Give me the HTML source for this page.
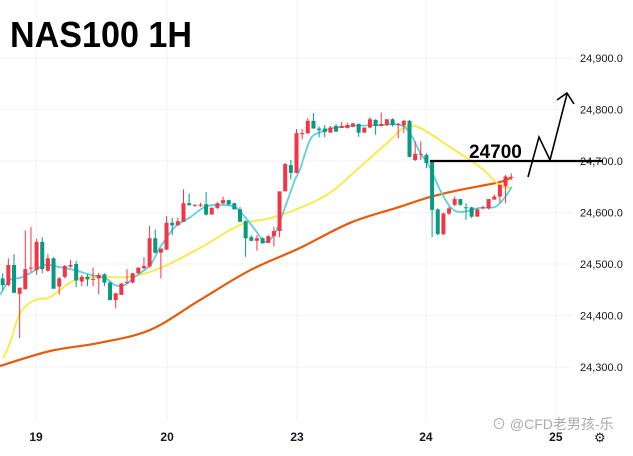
<!DOCTYPE html>
<html><head><meta charset="utf-8"><style>
body{margin:0;background:#fff;}
svg{display:block;font-family:"Liberation Sans","Noto Sans CJK SC",sans-serif;}
</style></head><body>
<svg id="chart" width="633" height="456" viewBox="0 0 633 456">
<g id="grid"></g>
<g id="ma"></g>
<g id="candles"></g>
<g id="axes"></g>
<text x="10" y="47" font-size="36" font-weight="bold" fill="#000" textLength="182" lengthAdjust="spacingAndGlyphs">NAS100 1H</text>
<line x1="430" y1="161" x2="603" y2="161" stroke="#000" stroke-width="2.2"/>
<text x="469" y="158" font-size="19" font-weight="bold" fill="#000">24700</text>
<polyline points="528,177 539,137 550,160 567,94" fill="none" stroke="#000" stroke-width="1.6"/>
<polyline points="557,100 567,93 574,104" fill="none" stroke="#000" stroke-width="1.6"/>
<text x="492" y="429" font-size="14" fill="#aaa">⊙ @CFD老男孩-乐</text>
<text x="594" y="442" font-size="13" fill="#222">⚙</text>
</svg>
<script>
const candles=[
[24472,24482,24449,24459],[24459,24511,24457,24498],[24498,24519,24444,24444],[24442,24454,24356,24454],
[24451,24565,24451,24490],[24491,24572,24485,24493],[24488,24549,24479,24543],[24543,24552,24482,24490],
[24487,24519,24485,24511],[24511,24513,24452,24452],[24456,24475,24441,24472],[24475,24498,24472,24496],
[24495,24508,24493,24498],[24500,24506,24455,24468],[24466,24479,24457,24475],[24475,24480,24457,24470],
[24470,24493,24457,24471],[24472,24483,24441,24479],[24480,24482,24457,24464],[24464,24466,24429,24430],
[24430,24444,24414,24443],[24440,24463,24440,24462],[24464,24490,24462,24465],[24464,24483,24462,24482],
[24482,24493,24481,24493],[24492,24513,24490,24496],[24495,24574,24493,24550],[24550,24567,24521,24522],
[24522,24530,24472,24530],[24528,24593,24527,24580],[24580,24590,24556,24575],[24575,24590,24575,24583],
[24582,24645,24582,24618],[24618,24637,24614,24614],[24614,24616,24611,24615],[24614,24619,24611,24615],
[24616,24640,24594,24596],[24596,24610,24596,24609],[24609,24620,24607,24618],[24618,24631,24616,24624],
[24624,24625,24614,24616],[24618,24619,24606,24606],[24606,24611,24582,24582],[24583,24585,24514,24550],
[24552,24556,24545,24545],[24545,24556,24526,24550],[24550,24552,24540,24540],[24541,24556,24540,24554],
[24554,24572,24534,24564],[24564,24641,24552,24641],[24641,24696,24641,24694],[24692,24702,24664,24677],
[24677,24762,24676,24754],[24752,24762,24742,24754],[24754,24783,24752,24778],[24778,24793,24763,24763],
[24763,24767,24746,24760],[24763,24770,24746,24756],[24755,24768,24755,24765],[24768,24772,24757,24757],
[24764,24776,24764,24768],[24764,24774,24763,24770],[24767,24774,24765,24773],[24772,24773,24747,24755],
[24755,24765,24755,24765],[24765,24785,24764,24781],[24780,24781,24751,24768],[24768,24794,24767,24772],
[24770,24781,24768,24781],[24781,24783,24767,24770],[24771,24774,24744,24772],[24769,24780,24754,24778],
[24778,24780,24707,24708],[24702,24738,24700,24714],[24713,24738,24702,24714],[24712,24715,24686,24696],
[24699,24699,24552,24605],[24606,24608,24556,24558],[24558,24600,24556,24598],[24598,24611,24595,24608],
[24615,24631,24612,24626],[24626,24626,24613,24615],[24610,24618,24586,24609],[24610,24611,24589,24592],
[24592,24608,24592,24606],[24609,24613,24606,24610],[24608,24626,24606,24626],[24625,24635,24625,24631],
[24631,24654,24619,24654],[24651,24673,24618,24670],[24668,24676,24663,24669]];
const priceTicks=[24900,24800,24700,24600,24500,24400,24300];
const dateLabels=["19","20","23","24","25"];
const dateIdx=[5.9,29.1,52.1,74.9,97.9];
const orangeIdx=[-0.5,8.4,17.2,26.1,34.9,43.8,52.6,61.5,70.3,75.6,81,88,90.1];
const orangeVal=[24302,24331,24347,24372,24430,24488,24531,24580,24611,24630,24644,24659,24669];
const yellowIdx=[0.05,1.3,3.1,5.7,8.4,12.8,17.2,22.5,27.9,34.9,42,47.3,52.6,57.9,63.2,68.6,71.2,73.9,79.2,84.5,88,90.1];
const yellowVal=[24317,24347,24405,24430,24436,24469,24475,24475,24492,24531,24576,24589,24609,24638,24688,24741,24766,24764,24727,24688,24653,24648];
const cyanIdx=[-0.5,1.3,3.1,4.8,7.5,10.1,12.8,15.5,18.1,19.9,21.6,23.4,26.1,27.9,30.5,33.2,35.8,38.5,41.1,42.9,44.7,46.4,48.2,50,51.7,52.6,54.4,56.2,59.7,66.8,70.3,72.1,73.9,75.6,77.4,79.2,81,84.5,87.2,88.9,90.1];
const cyanVal=[24440,24469,24473,24482,24498,24494,24488,24479,24473,24459,24459,24475,24498,24533,24572,24591,24611,24615,24611,24591,24566,24543,24560,24611,24663,24683,24741,24756,24766,24770,24770,24754,24716,24688,24644,24611,24601,24609,24611,24630,24650];

const NS="http://www.w3.org/2000/svg";
function y(p){return 161-(p-24700)*0.515;}
function x(i){return 2.7+i*5.65;}
function mk(tag,attrs,parent){const e=document.createElementNS(NS,tag);for(const k in attrs)e.setAttribute(k,attrs[k]);parent.appendChild(e);return e;}
const grid=document.getElementById('grid'),axes=document.getElementById('axes'),cg=document.getElementById('candles'),mg=document.getElementById('ma');
priceTicks.forEach(p=>{
  const l=mk('line',{x1:0,x2:572,y1:y(p),y2:y(p),stroke:'#f0f3fa','stroke-width':1},grid);
  
  
  const t=mk('text',{x:580,y:y(p)+4,'font-size':11,fill:'#131722'},axes);
  
  
  t.textContent=p.toLocaleString('en-US')+'.0';
});
dateLabels.forEach((d,k)=>{
  const xx=x(dateIdx[k]);
  const l=mk('line',{x1:xx,x2:xx,y1:0,y2:420,stroke:'#f0f3fa','stroke-width':1},grid);
  
  
  const t=mk('text',{x:xx,y:441,'font-size':12,'font-weight':'bold','text-anchor':'middle',fill:'#131722'},axes);
  
  
  t.textContent=d;
});
function line(idx,val,color,w,name){
  const P=idx.map((v,k)=>[x(v),y(val[k])]);
  let d='M'+P[0][0].toFixed(1)+','+P[0][1].toFixed(1);
  for(let i=0;i<P.length-1;i++){
    const p0=P[Math.max(0,i-1)],p1=P[i],p2=P[i+1],p3=P[Math.min(P.length-1,i+2)];
    const c1=[p1[0]+(p2[0]-p0[0])/6,p1[1]+(p2[1]-p0[1])/6];
    const c2=[p2[0]-(p3[0]-p1[0])/6,p2[1]-(p3[1]-p1[1])/6];
    d+=' C'+c1.map(v=>v.toFixed(1)).join(',')+' '+c2.map(v=>v.toFixed(1)).join(',')+' '+p2.map(v=>v.toFixed(1)).join(',');
  }
  const pl=mk('path',{d:d,fill:'none',stroke:color,'stroke-width':w,'stroke-linejoin':'round'},mg);
  
  
}
line(orangeIdx,orangeVal,'#e8590c',2.2,'ma-long-line');
line(yellowIdx,yellowVal,'#ffe83d',1.8,'ma-mid-line');
line(cyanIdx,cyanVal,'#5ed0e0',1.8,'ma-short-line');
candles.forEach((c,i)=>{
  const [o,h,l,cl]=c;const up=cl>=o;const col=up?'#f23645':'#089981';
  const cx=x(i);
  const g=mk('g',{},cg);
  
  
  mk('line',{x1:cx,x2:cx,y1:y(h),y2:y(l),stroke:col,'stroke-width':1},g);
  const top=y(Math.max(o,cl)),bot=y(Math.min(o,cl));
  mk('rect',{x:cx-2,y:top,width:4,height:Math.max(1,bot-top),fill:col},g);
});
</script>
</body></html>
